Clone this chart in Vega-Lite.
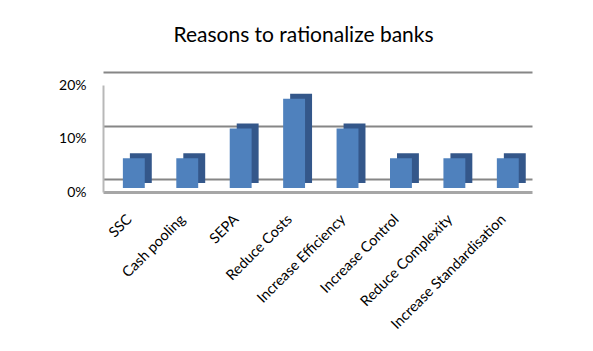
{
  "$schema": "https://vega.github.io/schema/vega-lite/v6.json",
  "width": 429,
  "height": 107,
  "autosize": {"type": "none"},
  "padding": {"left": 103, "top": 85, "right": 61, "bottom": 159},
  "background": "white",
  "title": {
    "text": "Reasons to rationalize banks",
    "font": "Lato",
    "fontSize": 21,
    "fontWeight": "normal",
    "color": "#000000",
    "anchor": "middle",
    "baseline": "alphabetic",
    "dx": -14,
    "offset": 15
  },
  "data": {
    "values": [
      {"reason": "SSC", "share": 0.0556},
      {"reason": "Cash pooling", "share": 0.0556},
      {"reason": "SEPA", "share": 0.1111},
      {"reason": "Reduce Costs", "share": 0.1667},
      {"reason": "Increase Efficiency", "share": 0.1111},
      {"reason": "Increase Control", "share": 0.0556},
      {"reason": "Reduce Complexity", "share": 0.0556},
      {"reason": "Increase Standardisation", "share": 0.0556}
    ]
  },
  "encoding": {
    "x": {
      "field": "reason",
      "type": "nominal",
      "sort": null,
      "scale": {"paddingInner": 0.59, "paddingOuter": 0.31, "align": 0.6},
      "axis": {
        "title": null,
        "labelAngle": -45,
        "labelAlign": "right",
        "labelBaseline": "middle",
        "labelFont": "Lato",
        "labelFontSize": 14.5,
        "labelColor": "#000000",
        "labelPadding": 25,
        "labelOffset": -4,
        "ticks": false,
        "domainColor": "#a6a6a6",
        "domainWidth": 3,
        "grid": false
      }
    }
  },
  "layer": [
    {
      "mark": {"type": "tick", "opacity": 0},
      "encoding": {
        "y": {
          "field": "share",
          "type": "quantitative",
          "scale": {"domain": [0, 0.2], "range": [94, -13]},
          "axis": {
            "orient": "right",
            "title": null,
            "labels": false,
            "ticks": false,
            "domain": false,
            "values": [0, 0.1, 0.2],
            "grid": true,
            "gridColor": "#868686",
            "gridWidth": 2
          }
        }
      }
    },
    {
      "encoding": {
        "y": {
          "field": "share",
          "type": "quantitative",
          "scale": {"domain": [0, 0.2]},
          "axis": {
            "title": null,
            "format": ".0%",
            "values": [0, 0.1, 0.2],
            "labelFont": "Lato",
            "labelFontSize": 14,
            "labelColor": "#000000",
            "labelPadding": 17,
            "ticks": false,
            "domainColor": "#b8b8b8",
            "domainWidth": 2,
            "grid": false
          }
        }
      },
      "layer": [
        {"mark": {"type": "bar", "color": "#34578a", "xOffset": 7, "x2Offset": 7, "yOffset": -9, "y2Offset": -9}},
        {"mark": {"type": "bar", "color": "#4f81bd", "yOffset": -4, "y2Offset": -4}}
      ]
    }
  ],
  "resolve": {"scale": {"y": "independent"}, "axis": {"y": "independent"}},
  "config": {"view": {"stroke": null}}
}
